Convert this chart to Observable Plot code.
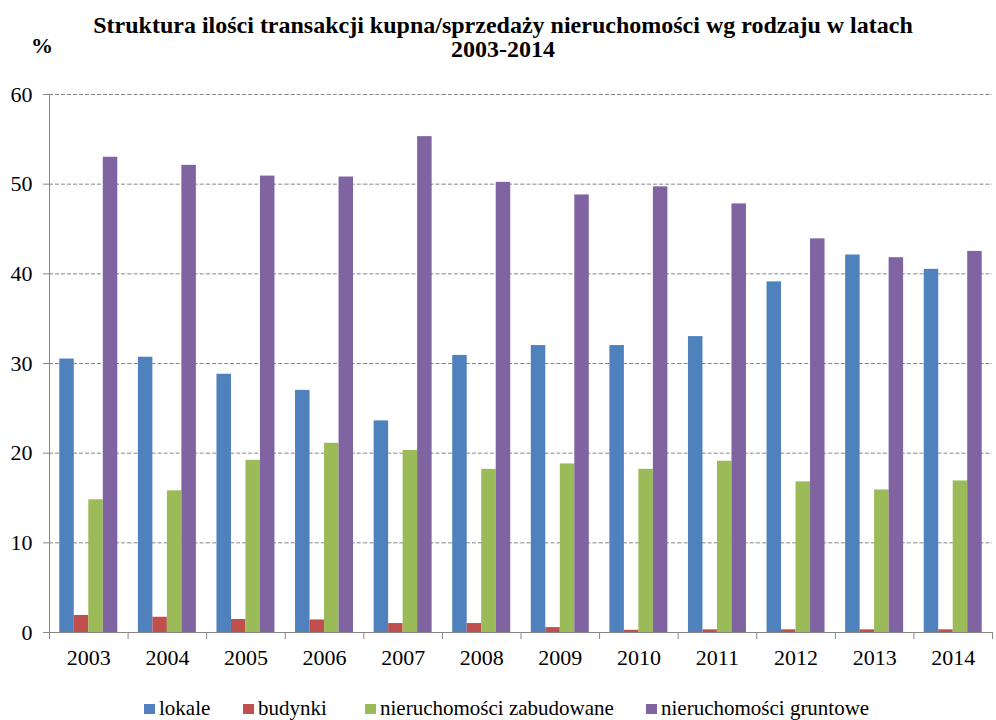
<!DOCTYPE html>
<html><head><meta charset="utf-8">
<script src="https://cdn.jsdelivr.net/npm/d3@7"></script>
<script src="https://cdn.jsdelivr.net/npm/@observablehq/plot@0.6"></script>
<style>
body{margin:0;background:#fff;}
#wrap{position:relative;width:996px;height:720px;overflow:hidden;font-family:"Liberation Serif","Times New Roman",serif;color:#000;}
#chart{position:absolute;left:0;top:0;}
#chart svg, #chart svg text{font-family:"Liberation Serif","Times New Roman",serif !important;}
#title{position:absolute;left:0;top:13px;width:1006px;text-align:center;font-weight:bold;font-size:24px;line-height:24px;}
#pct{position:absolute;left:31px;top:35px;font-weight:bold;font-size:22px;line-height:22px;}
#legend{position:absolute;left:0;top:698px;width:996px;height:21px;font-size:21px;line-height:21px;}
#legend .it{position:absolute;top:0;display:flex;align-items:center;white-space:nowrap;}
#legend .sw{width:11px;height:10px;margin-right:4px;margin-top:1px;}
</style></head>
<body>
<div id="wrap">
<div id="chart"></div>
<div id="title">Struktura ilości transakcji kupna/sprzedaży nieruchomości wg rodzaju w latach<br>2003-2014</div>
<div id="pct">%</div>
<div id="legend"></div>
</div>
<script>
const years = [2003, 2004, 2005, 2006, 2007, 2008, 2009, 2010, 2011, 2012, 2013, 2014];
const series = ["lokale", "budynki", "nieruchomości zabudowane", "nieruchomości gruntowe"];
const lokale =     [30.5, 30.7, 28.8, 27.0, 23.6, 30.9, 32.0, 32.0, 33.0, 39.1, 42.1, 40.5];
const budynki =    [1.9, 1.7, 1.45, 1.4, 1.0, 1.0, 0.55, 0.25, 0.3, 0.3, 0.3, 0.3];
const zabudowane = [14.8, 15.8, 19.2, 21.1, 20.3, 18.2, 18.8, 18.2, 19.1, 16.8, 15.9, 16.9];
const gruntowe =   [53.0, 52.1, 50.9, 50.8, 55.3, 50.2, 48.8, 49.7, 47.8, 43.9, 41.8, 42.5];
const yTicks = [0, 10, 20, 30, 40, 50, 60];
const colors = ["#4F81BD", "#C0504D", "#9BBB59", "#8064A2"];
const legendLeft = [144, 243, 365, 646];

const valuesBySeries = [lokale, budynki, zabudowane, gruntowe];
const data = years.flatMap((y, i) => series.map((s, j) => ({year: y, series: s, value: valuesBySeries[j][i]})));

const axisGray = "#868686";
const chart = Plot.plot({
  width: 996, height: 720,
  marginTop: 94, marginBottom: 88, marginLeft: 49, marginRight: 4,
  style: {fontFamily: '"Liberation Serif","Times New Roman",serif', fontSize: "22px", color: "#000", background: "transparent"},
  fx: {domain: years, padding: 0, round: false, label: null, tickSize: 0, tickPadding: 17, axis: "bottom", tickFormat: d => String(d)},
  x: {domain: series, paddingInner: 0, paddingOuter: 0.71, round: false, axis: null},
  y: {domain: [0, 60], axis: null},
  color: {domain: series, range: colors},
  marks: [
    Plot.ruleY(yTicks.filter(d => d > 0), {stroke: axisGray, strokeDasharray: "4,2"}),
    Plot.barY(data, {fx: "year", x: "series", y: "value", fill: "series"}),
    Plot.ruleY([0], {stroke: axisGray}),
    Plot.frame({anchor: "left", stroke: axisGray, insetTop: 538, insetBottom: -6}),
    Plot.frame({anchor: "right", stroke: axisGray, insetTop: 538, insetBottom: -6, facetAnchor: "right"}),
    Plot.frame({anchor: "left", stroke: axisGray, facetAnchor: "left"}),
    Plot.axisY({ticks: yTicks, tickSize: 6, tickPadding: 11, stroke: axisGray, fill: "#000", label: null})
  ]
});
document.getElementById("chart").appendChild(chart);

const legend = document.getElementById("legend");
series.forEach((s, i) => {
  const it = document.createElement("div"); it.className = "it"; it.style.left = legendLeft[i] + "px";
  const sw = document.createElement("div"); sw.className = "sw"; sw.style.background = colors[i];
  const t = document.createElement("span"); t.textContent = s;
  it.appendChild(sw); it.appendChild(t); legend.appendChild(it);
});
</script>
</body></html>
